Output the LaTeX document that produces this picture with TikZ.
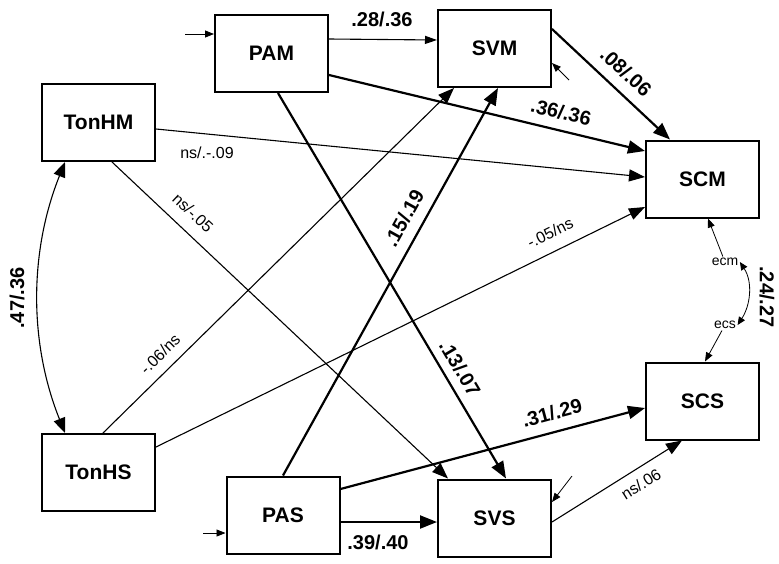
\documentclass[tikz,border=0pt]{standalone}
\usepackage{fontspec}
\setmainfont{Liberation Sans}
\usetikzlibrary{arrows.meta,calc}
\begin{document}
\begin{tikzpicture}[x=1pt,y=-1pt,
  box/.style={draw,line width=2pt,minimum width=113pt,minimum height=77pt,inner sep=0pt,font=\fontsize{21}{25}\selectfont\bfseries},
  blab/.style={font=\fontsize{20}{24}\selectfont\bfseries,inner sep=0pt},
  tlab/.style={font=\fontsize{16}{19}\selectfont,inner sep=0pt},
  elab/.style={font=\fontsize{14}{17}\selectfont,inner sep=1.5pt},
  thk/.style={line width=2.2pt,-{Triangle[length=17pt,width=13pt]}},
  thn/.style={line width=1.1pt,-{Triangle[length=16pt,width=12pt]}},
  sml/.style={line width=0.8pt,-{Triangle[length=9pt,width=7pt]}},
]
\useasboundingbox (0,0) rectangle (779,563);
\node[box] (PAM) at (271.5,53.5) {PAM};
\node[box] (SVM) at (494.5,48.5) {SVM};
\node[box] (TonHM) at (98.5,122.5) {TonHM};
\node[box] (SCM) at (702.5,179) {SCM};
\node[box] (SCS) at (702.5,401) {SCS};
\node[box] (TonHS) at (98.5,472.5) {TonHS};
\node[box] (PAS) at (283,515) {PAS};
\node[box] (SVS) at (494.5,518) {SVS};
\node[elab] (ecm) at (725,262) {ecm};
\node[elab] (ecs) at (725,325) {ecs};
\coordinate (inPAM) at (185,34);
\coordinate (inPAS) at (203,533);
\coordinate (eSVM) at (569,80);
\coordinate (eSVS) at (572,476);

\draw[sml] (inPAM) -- ([yshift=19.5pt]PAM.west);
\draw[thn,-{Triangle[length=12pt,width=8pt]}] ([yshift=14.5pt]PAM.east) -- ([yshift=8.5pt]SVM.west);
\node[blab] at (382,19) {.28/.36};
\draw[thk] ([yshift=-21.5pt]PAM.east) -- ([yshift=28pt]SCM.west);
\node[blab,rotate=-13.5] at (561,112) {.36/.36};
\draw[thn] ([yshift=-6.5pt]TonHM.east) -- ([yshift=2pt]SCM.west);
\node[tlab] at (207,153) {ns/.-.09};
\draw[thk] ([yshift=19.5pt]SVM.east) -- ([xshift=-32.5pt]SCM.north);
\node[blab,rotate=-42.7] at (626,72) {.08/.06};
\draw[sml] (eSVM) -- ([yshift=-14.5pt]SVM.east);
\draw[thn,{Triangle[length=15pt,width=12pt]}-{Triangle[length=15pt,width=12pt]}] ([xshift=-33.5pt]TonHM.south) .. controls +(-36,90) and +(-36,-90) .. ([xshift=-33.5pt]TonHS.north);
\node[blab,rotate=90] at (17,298) {.47/.36};
\draw[thn] ([xshift=13.5pt]TonHM.south) -- ([xshift=-46.5pt]SVS.north);
\node[tlab,rotate=-43.3] at (193,213) {ns/-.05};
\draw[thk] ([xshift=6.5pt]PAM.south) -- ([xshift=11.5pt]SVS.north);
\node[blab,rotate=-59.4] at (460,368) {.13/.07};
\draw[thn] ([xshift=4.5pt]TonHS.north) -- ([xshift=-40.5pt]SVM.south);
\node[tlab,rotate=44.5] at (160,354) {-.06/ns};
\draw[thk] (PAS.north) -- ([xshift=3.5pt]SVM.south);
\node[blab,rotate=61] at (404,218) {.15/.19};
\draw[thn] ([yshift=25.5pt]TonHS.east) -- ([yshift=-28pt]SCM.west);
\node[tlab,rotate=26.1] at (550,233) {-.05/ns};
\draw[sml] (ecm) -- ([xshift=5.5pt]SCM.south);
\draw[sml] (ecs) -- ([xshift=2.5pt]SCS.north);
\draw[line width=0.8pt,{Triangle[length=8pt,width=7pt]}-{Triangle[length=8pt,width=7pt]}] (ecm.east) .. controls +(13,20) and +(13,-20) .. (ecs.east);
\node[blab,rotate=-90] at (767,297) {.24/.27};
\draw[thk] ([yshift=26pt]PAS.east) -- ([yshift=-7pt]SCS.west);
\node[blab,rotate=14.9] at (552,413) {.31/.29};
\draw[thk] ([yshift=-7pt]PAS.east) -- ([yshift=-4pt]SVS.west);
\node[blab] at (378,542) {.39/.40};
\draw[sml] (inPAS) -- ([yshift=-18pt]PAS.west);
\draw[sml] (eSVS) -- ([yshift=16pt]SVS.east);
\draw[thn] ([yshift=-4pt]SVS.east) -- ([xshift=-20.5pt]SCS.south);
\node[tlab,rotate=32.1] at (641,484) {ns/.06};
\end{tikzpicture}
\end{document}
